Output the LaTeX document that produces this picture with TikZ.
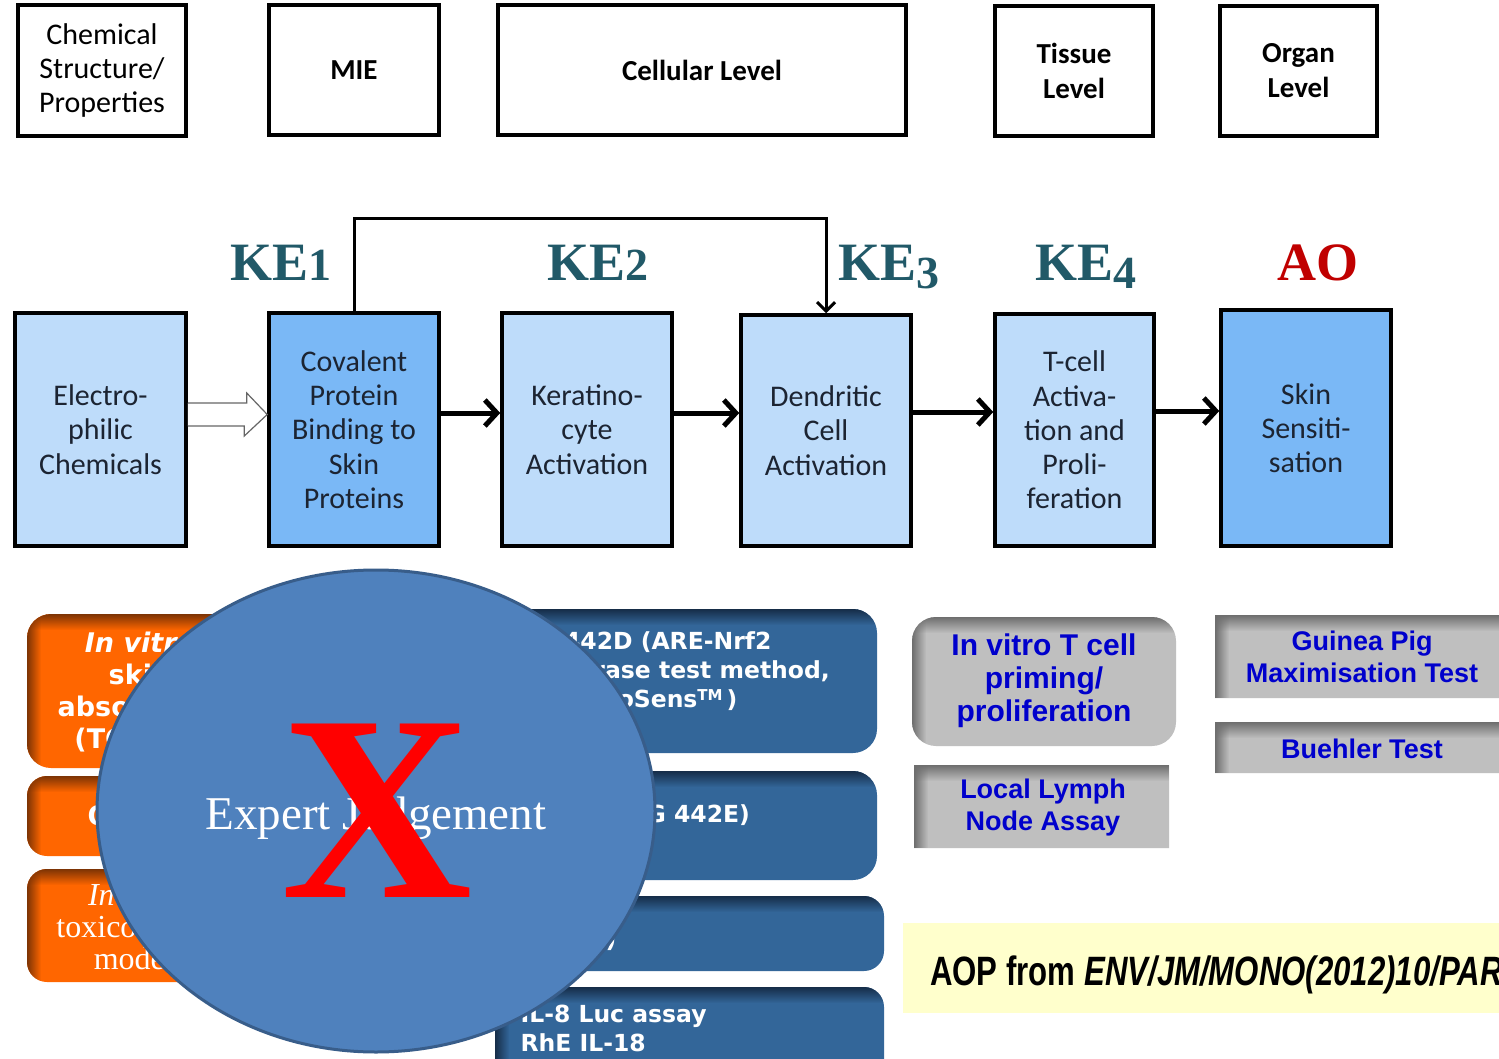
\documentclass[tikz,border=0pt]{standalone}
\usepackage{fontspec}
\setmainfont{Liberation Serif}
\newfontfamily\fcal{Carlito}
\newfontfamily\fverd{DejaVu Sans}
\newfontfamily\farial{Liberation Sans}
\newfontfamily\farialn[FakeStretch=0.76]{Liberation Sans}
\usetikzlibrary{arrows.meta,shapes.geometric,fadings}
\definecolor{lightfill}{RGB}{190,220,250}
\definecolor{darkfill}{RGB}{122,184,246}
\definecolor{boxtext}{RGB}{28,36,50}
\definecolor{keteal}{RGB}{33,89,104}
\definecolor{aored}{RGB}{192,0,0}
\definecolor{orangemain}{RGB}{255,102,0}
\definecolor{orangedark}{RGB}{125,52,5}
\definecolor{bluemain}{RGB}{51,102,153}
\definecolor{bluedark}{RGB}{22,45,72}
\definecolor{graymain}{RGB}{191,191,191}
\definecolor{graydark}{RGB}{110,110,110}
\definecolor{graytext}{RGB}{0,0,204}
\definecolor{circfill}{RGB}{79,129,189}
\definecolor{circbord}{RGB}{56,93,138}
\definecolor{aopfill}{RGB}{255,255,204}
\definecolor{xred}{RGB}{255,0,0}
\tikzfading[name=fadetop, top color=transparent!0, bottom color=transparent!100]
\tikzfading[name=fadeleft, left color=transparent!0, right color=transparent!100]
\newcommand\shadedpanel[7]{%
  \fill[#5, rounded corners=#7] (#1,#2) rectangle (#3,#4);
  \begin{scope}
    \clip[rounded corners=#7] (#1,#2) rectangle (#3,#4);
    \fill[#6, path fading=fadeleft] (#1,#2) rectangle (#1+14,#4);
    \fill[#6, path fading=fadetop] (#1,#2) rectangle (#3,#2+16);
  \end{scope}}
\newcommand\osn[2]{\raisebox{#2}{\fontsize{46}{46}\selectfont #1}}
\newcommand\tmark{\raisebox{7pt}{\fontsize{15}{15}\selectfont TM}}
\begin{document}
\begin{tikzpicture}[x=1pt,y=-1pt,
  topbox/.style={draw, line width=3.5, fill=white, align=center, inner sep=0,
    font=\fcal\fontsize{30}{34}\selectfont, text=black},
  topbold/.style={topbox, font=\fcal\bfseries\fontsize{29}{35}\selectfont},
  midbox/.style={draw, line width=3.5, align=center, inner sep=0,
    font=\fcal\fontsize{30}{34.3}\selectfont, text=boxtext},
  kelabel/.style={anchor=base, font=\bfseries\fontsize{54}{54}\selectfont, text=keteal},
  flowarrow/.style={line width=5, -{Straight Barb[length=12pt,width=26pt]}},
  bracketarrow/.style={line width=3, -{Straight Barb[length=9pt,width=18pt]}},
  hollowarrow/.style={draw=gray!80!black, line width=1.2, fill=white},
  orangetext/.style={text=white, align=center, font=\fverd\bfseries\fontsize{27}{32}\selectfont},
  bluetext/.style={text=white, align=left, anchor=west, font=\fverd\bfseries\fontsize{23.5}{29}\selectfont},
  graytxt/.style={text=graytext, align=center, font=\farial\bfseries\fontsize{27}{32}\selectfont},
]
\useasboundingbox (0,0) rectangle (1499,1059);
\clip (0,0) rectangle (1499,1059);
\fill[white] (0,0) rectangle (1499,1059);

% ---------- top level boxes
\node[topbox, minimum width=168, minimum height=131] (chem) at (102,70.5) {Chemical\\Structure/\\Properties};
\node[topbold, minimum width=170, minimum height=130] (mie) at (354,70) {MIE};
\node[topbold, minimum width=408, minimum height=130] (cell) at (702,70) {Cellular Level};
\node[topbold, minimum width=158, minimum height=130] (tis) at (1074,71) {Tissue\\Level};
\node[topbold, minimum width=157, minimum height=130] (org) at (1298.5,71) {Organ\\Level};

% ---------- KE labels
\node[kelabel] (ke1) at (281,280) {KE\osn{1}{0pt}};
\node[kelabel] (ke2) at (598,280) {KE\osn{2}{0pt}};
\node[kelabel] (ke3) at (889,280) {KE\osn{3}{-9pt}};
\node[kelabel] (ke4) at (1086,280) {KE\osn{4}{-9pt}};
\node[kelabel, text=aored] (ao) at (1318,280) {AO};

% ---------- pathway boxes
\node[midbox, fill=lightfill, minimum width=171, minimum height=233] (elec) at (100.5,429.5) {Electro-\\philic\\Chemicals};
\node[midbox, fill=darkfill, minimum width=170, minimum height=233] (cov) at (354,429.5) {Covalent\\Protein\\Binding to\\Skin\\Proteins};
\node[midbox, fill=lightfill, minimum width=170, minimum height=233] (ker) at (587,429.5) {Keratino-\\cyte\\Activation};
\node[midbox, fill=lightfill, minimum width=170, minimum height=231] (den) at (826,430.5) {Dendritic\\Cell\\Activation};
\node[midbox, fill=lightfill, minimum width=159, minimum height=232] (tce) at (1074.5,430) {T-cell\\Activa-\\tion and\\Proli-\\feration};
\node[midbox, fill=darkfill, minimum width=170, minimum height=236] (skin) at (1306,428) {Skin\\Sensiti-\\sation};

% hollow arrow
\draw[hollowarrow] ([yshift=26.5pt]elec.east) -- ++(59,0) -- ++(0,-10)
  -- ([yshift=15pt]cov.west) -- ++(-23,21.5) -- ++(0,-10) -- ([yshift=3.5pt]elec.east);

% flow arrows
\draw[flowarrow] ([yshift=16.5pt]cov.east) -- ([yshift=16.5pt]ker.west);
\draw[flowarrow] ([yshift=16.5pt]ker.east) -- ([yshift=17.5pt]den.west);
\draw[flowarrow] ([yshift=18.5pt]den.east) -- ([yshift=18pt]tce.west);
\draw[flowarrow] ([yshift=19pt]tce.east) -- ([yshift=17pt]skin.west);
\draw[bracketarrow] (cov.north) -- ++(0,-93) -| (den.north);

% ---------- orange panels
\shadedpanel{27}{614}{253}{768}{orangemain}{orangedark}{24}
\node[orangetext] (o1) at (140,692) {\textit{In vitro}\\skin\\absorption\\(TG 428)};
\shadedpanel{27}{776}{253}{856}{orangemain}{orangedark}{20}
\node[orangetext, anchor=west] (o2) at (84,817) {QSAR};
\shadedpanel{27}{869}{253}{982}{orangemain}{orangedark}{20}
\node[text=white, align=center, font=\fontsize{32}{32}\selectfont] (o3) at (140,927) {\textit{In silico}\\toxicokinetic\\models};

% ---------- blue panels
\shadedpanel{495}{609}{877}{753}{bluemain}{bluedark}{24}
\node[bluetext] (b1) at (517,671) {TG 442D (ARE-Nrf2\\luciferase test method,\\KeratinoSens\tmark\,)};
\shadedpanel{495}{771}{877}{880}{bluemain}{bluedark}{24}
\node[bluetext] (b2) at (517,815) {h-CLAT (TG 442E)};
\shadedpanel{495}{896}{884}{971}{bluemain}{bluedark}{20}
\node[bluetext] (b3) at (500,940) {(MUSST)};
\shadedpanel{495}{987}{884}{1090}{bluemain}{bluedark}{20}
\node[bluetext] (b4) at (517,1028) {IL-8 Luc assay\\RhE IL-18};

% ---------- expert judgement circle
\node[ellipse, draw=circbord, line width=3, fill=circfill, minimum width=558, minimum height=482, inner sep=0] (ej) at (376,811) {};
\node[anchor=base, text=white, font=\fontsize{47}{47}\selectfont] (ejt) at (376,829) {Expert Judgement};
\node[anchor=base, text=xred, inner sep=0, font=\bfseries\fontsize{265}{265}\selectfont] (x) at (377,897) {X};

% ---------- gray panels
\shadedpanel{912}{617}{1176}{746}{graymain}{graydark}{24}
\node[graytxt, font=\farial\bfseries\fontsize{30}{33}\selectfont] (g1) at (1044,681) {In vitro T cell\\priming/\\proliferation};
\shadedpanel{914}{765}{1169}{848}{graymain}{graydark}{0.01}
\node[graytxt] (g2) at (1043,808) {Local Lymph\\Node Assay};
\shadedpanel{1215}{615}{1530}{698}{graymain}{graydark}{0.01}
\node[graytxt] (g3) at (1362,657) {Guinea Pig\\Maximisation Test};
\shadedpanel{1215}{722}{1530}{773}{graymain}{graydark}{0.01}
\node[graytxt] (g4) at (1362,749) {Buehler Test};

% ---------- AOP source
\fill[aopfill] (903,923) rectangle (1530,1013);
\node[anchor=base west, inner sep=0, font=\farialn\bfseries\fontsize{41}{41}\selectfont] (aop) at (930,985) {AOP from \textit{ENV/JM/MONO(2012)10/PAR}};
\end{tikzpicture}
\end{document}
